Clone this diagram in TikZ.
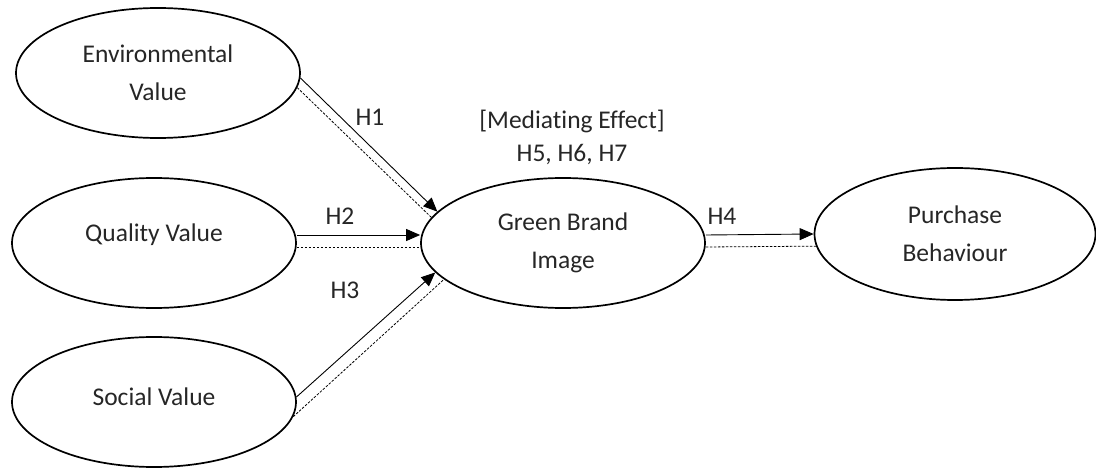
\documentclass[tikz,border=0pt]{standalone}
\usepackage{fontspec}
\setmainfont[Ligatures=CommonOff]{Carlito}
\usetikzlibrary{shapes.geometric,arrows.meta}
\begin{document}
\begin{tikzpicture}[x=1pt,y=-1pt,
  ell/.style={ellipse,draw,line width=1.7pt,minimum width=284pt,minimum height=130pt,inner sep=0pt,align=center,text=black!85,font=\fontsize{25.5}{38}\selectfont},
  lbl/.style={font=\fontsize{25.5}{33}\selectfont,inner sep=0pt,align=center,text=black!85},
  arr/.style={line width=0.9pt,-{Triangle[length=14pt,width=12pt]}},
  dsh/.style={line width=0.8pt,dash pattern=on 2.5pt off 1.5pt}]
\useasboundingbox (0,0) rectangle (1096,470);
\node[ell] (ev) at (158,73) {Environmental\\Value};
\node[ell,label={[lbl,yshift=8pt]center:Quality Value}] (qv) at (154,243) {};
\node[ell,label={[lbl,yshift=5pt]center:Social Value}] (sv) at (154,402) {};
\node[ell] (gbi) at (563,243) {Green Brand\\Image};
\node[ell,minimum width=281pt,minimum height=132pt] (pb) at (955,234) {Purchase\\Behaviour};
\node[lbl] (med) at (572,137) {[Mediating Effect]\\H5, H6, H7};
% H1
\draw[arr] (ev.-2) -- (gbi.166);
\draw[dsh] (ev.-6) -- (gbi.169);
% H2
\draw[arr] ([yshift=8pt]qv.east) -- ([yshift=8pt]gbi.west);
\draw[dsh] ([yshift=-4pt]qv.east) -- ([yshift=-4pt]gbi.west);
% H3
\draw[arr] (sv.2) -- (gbi.193);
\draw[dsh] (sv.-6) -- (gbi.197);
% H4
\draw[arr] ([yshift=8pt]gbi.east) -- (pb.west);
\draw[dsh] ([yshift=-4pt]gbi.east) -- (pb.185);
\node[lbl] (h1) at (370,117) {H1};
\node[lbl] (h2) at (340,216) {H2};
\node[lbl] (h3) at (345,290) {H3};
\node[lbl] (h4) at (722,216) {H4};
\end{tikzpicture}
\end{document}
